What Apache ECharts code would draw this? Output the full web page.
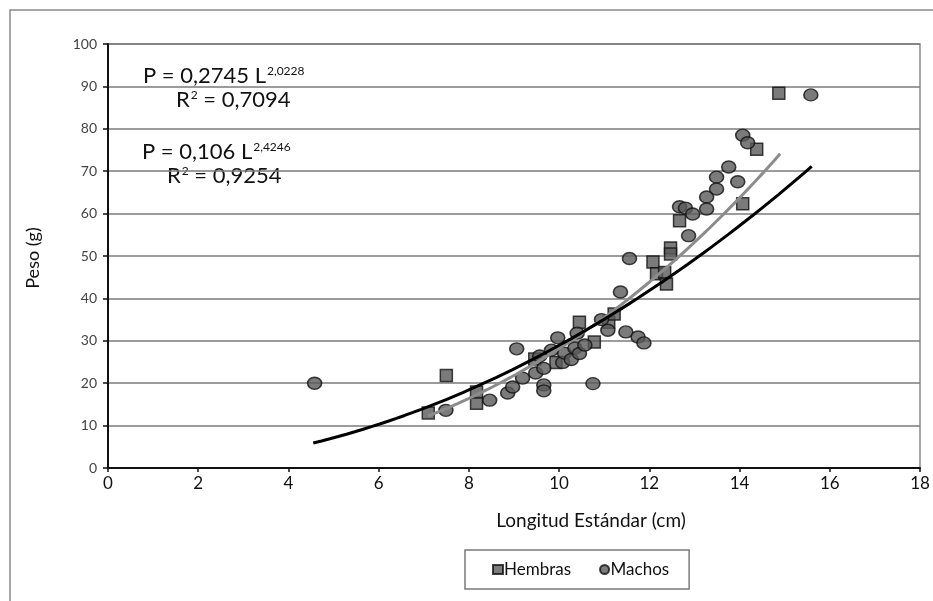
<!DOCTYPE html>
<html>
<head>
<meta charset="utf-8">
<script src="https://cdn.jsdelivr.net/npm/echarts@6/dist/echarts.min.js"></script>
<style>
  html, body { margin: 0; padding: 0; background: #fff; }
  #chart { width: 933px; height: 601px; }
</style>
</head>
<body>
<div id="chart"></div>
<script>
  // Hembras (squares): [longitud, peso]
  var hembras = [
    [7.1, 13.0], [7.5, 21.8], [8.17, 15.3], [8.17, 17.9], [9.46, 25.7],
    [9.93, 24.9], [10.45, 34.4], [10.78, 29.7], [11.1, 34.4], [11.22, 36.3],
    [12.08, 48.6], [12.16, 45.8], [12.34, 46.1], [12.38, 43.4], [12.47, 51.9],
    [12.47, 50.5], [12.67, 58.3], [14.07, 62.3], [14.38, 75.2], [14.87, 88.4]
  ]
  // Machos (circles)
  var machos = [
    [4.58, 20.0], [7.49, 13.6], [8.46, 16.0], [8.86, 17.7], [8.97, 19.1],
    [9.06, 28.1], [9.19, 21.2], [9.48, 22.4], [9.57, 26.4], [9.66, 23.5],
    [9.66, 19.6], [9.66, 18.2], [9.83, 27.8], [9.97, 30.7], [10.08, 24.9],
    [10.12, 27.1], [10.27, 25.6], [10.4, 31.8], [10.35, 28.3], [10.45, 27.0],
    [10.57, 29.0], [10.75, 19.9], [10.94, 35.0], [11.08, 32.5], [11.36, 41.5],
    [11.48, 32.1], [11.56, 49.4], [11.75, 30.9], [11.88, 29.5], [12.67, 61.6],
    [12.8, 61.3], [12.87, 54.8], [12.96, 59.9], [13.27, 63.9], [13.27, 61.1],
    [13.49, 68.6], [13.49, 65.8], [13.76, 71.0], [13.96, 67.5], [14.07, 78.5],
    [14.18, 76.7], [15.58, 88.0]
  ]
  // power fits P = a * L^b shown on the chart: [a, b, from, to]
  var fitMachos = [0.2745, 2.0228, 4.55, 15.6]
  var fitHembras = [0.106, 2.4246, 7.1, 14.9]

  function powerCurve(fit) {
    var pts = []
    var steps = 60
    for (var i = 0; i <= steps; i++) {
      var L = fit[2] + (fit[3] - fit[2]) * i / steps
      pts.push([L, fit[0] * Math.pow(L, fit[1])])
    }
    return pts
  }

  var font = 'Lato, "Open Sans", sans-serif'
  var chart = echarts.init(document.getElementById('chart'))

  function eq(text, x, y) {
    return {
      type: 'text',
      x: x,
      y: y,
      style: {
        text: text,
        verticalAlign: 'middle',
        rich: {
          b: { fontSize: 22, fontFamily: font, fill: '#111' },
          s: { fontSize: 12, fontFamily: font, fill: '#111', padding: [0, 0, 10, 1] }
        }
      }
    }
  }

  var option = {
    animation: false,
    backgroundColor: '#fff',
    grid: {
      left: 108,
      right: 13,
      top: 44,
      bottom: 133,
      show: true,
      borderColor: '#8a8a8a',
      borderWidth: 1.5
    },
    xAxis: {
      type: 'value',
      min: 0,
      max: 18,
      interval: 2,
      axisLine: { onZero: false, lineStyle: { color: '#111', width: 2 } },
      axisTick: { show: true, length: 4, lineStyle: { color: '#111', width: 1.5 } },
      axisLabel: { color: '#111', fontSize: 17, fontFamily: font, margin: 7 },
      splitLine: { show: false }
    },
    yAxis: {
      type: 'value',
      min: 0,
      max: 100,
      interval: 10,
      axisLine: { show: true, lineStyle: { color: '#111', width: 2 } },
      axisTick: { show: true, length: 5, lineStyle: { color: '#111', width: 1.5 } },
      axisLabel: { color: '#444', fontSize: 14, fontFamily: font, margin: 11 },
      splitLine: { lineStyle: { color: '#7a7a7a', width: 1.5 } }
    },
    legend: {
      left: 465,
      top: 550,
      width: 224,
      height: 39,
      padding: [11, 20, 11, 27],
      borderColor: '#7a7a7a',
      borderWidth: 1.5,
      itemGap: 28,
      itemWidth: 10,
      itemHeight: 9,
      textStyle: { fontSize: 17, fontFamily: font, color: '#111', padding: [0, 0, 0, -4] },
      data: [
        { name: 'Hembras', icon: 'rect' },
        { name: 'Machos', icon: 'circle' }
      ]
    },
    series: [
      {
        name: 'Hembras',
        type: 'scatter',
        symbol: 'rect',
        symbolSize: 12,
        itemStyle: { color: '#5a5a5a', borderColor: '#111', borderWidth: 1.5 },
        data: hembras,
        z: 2
      },
      {
        name: 'Machos',
        type: 'scatter',
        symbol: 'circle',
        symbolSize: [14, 12],
        itemStyle: { color: '#5a5a5a', borderColor: '#111', borderWidth: 1.5 },
        data: machos,
        z: 2
      },
      {
        name: 'fitMachos',
        type: 'line',
        showSymbol: false,
        silent: true,
        lineStyle: { color: '#000', width: 3 },
        data: powerCurve(fitMachos),
        z: 4
      },
      {
        name: 'fitHembras',
        type: 'line',
        showSymbol: false,
        silent: true,
        lineStyle: { color: '#8c8c8c', width: 3 },
        data: powerCurve(fitHembras),
        z: 3
      }
    ],
    graphic: [
      {
        type: 'rect',
        shape: { x: 10, y: 10, width: 940, height: 620 },
        style: { fill: null, stroke: '#8a8a8a', lineWidth: 1.5 },
        silent: true
      },
      {
        type: 'text',
        x: 33,
        y: 258,
        rotation: Math.PI / 2,
        style: { text: 'Peso (g)', fontSize: 18, fontFamily: font, fill: '#111', align: 'center', verticalAlign: 'middle' }
      },
      {
        type: 'text',
        x: 591,
        y: 521,
        style: { text: 'Longitud Estándar (cm)', fontSize: 19, fontFamily: font, fill: '#111', align: 'center', verticalAlign: 'middle' }
      },
      eq('{b|P = 0,2745 L}{s|2,0228}', 143, 76),
      eq('{b|R}{s|2}{b| = 0,7094}', 176, 100),
      eq('{b|P = 0,106 L}{s|2,4246}', 142, 152),
      eq('{b|R}{s|2}{b| = 0,9254}', 167, 176)
    ]
  }

  chart.setOption(option)
</script>
</body>
</html>
